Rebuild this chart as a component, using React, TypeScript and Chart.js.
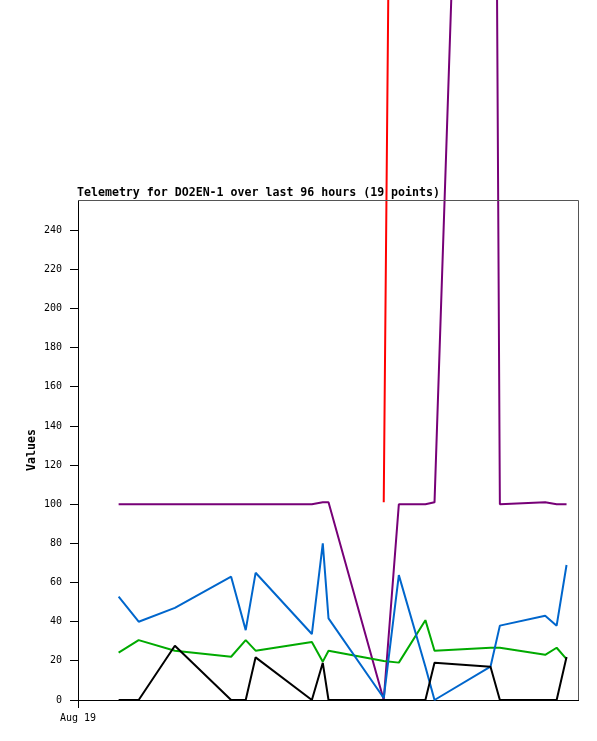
import React, { useEffect, useRef } from "react";
import { Chart, registerables } from "chart.js";

Chart.register(...registerables);

const TITLE = "Telemetry for DO2EN-1 over last 96 hours (19 points)";
const Y_TITLE = "Values";
const X_TICK_LABEL = "Aug 19";

// hours since start of axis
const hours = [7.8, 11.65, 18.6, 29.4, 32.2, 34.1, 44.9, 47.0, 48.1, 58.7, 61.6, 66.7, 68.45, 79.2, 81.0, 89.7, 91.9, 93.8];

const purple = [100, 100, 100, 100, 100, 100, 100, 101, 101, 0, 100, 100, 101, 960, 100, 101, 100, 100];
const red = [null, null, null, null, null, null, null, null, null, 101, 960, 960, 960, 960, 960, 960, 960, 960];
const blue = [52.8, 40, 47.1, 63, 35.7, 65, 33.7, 80, 41.7, 1, 63.8, 17, 0, 17, 38, 43, 38, 69];
const green = [24.2, 30.6, 25.2, 22.1, 30.6, 25.2, 29.6, 19.6, 25.2, 19.9, 19.1, 40.8, 25.2, 26.7, 26.7, 23.1, 26.7, 20.9];
const black = [0, 0, 27.7, 0, 0, 21.8, 0, 19, 0, 0, 0, 0, 19, 17, 0, 0, 0, 22];

const yTicks = [0, 20, 40, 60, 80, 100, 120, 140, 160, 180, 200, 220, 240];
const xTicks = [0];

const toPts = (arr: (number | null)[]) => arr.map((v, i) => ({ x: hours[i], y: v }));

export default function App() {
  const ref = useRef<HTMLCanvasElement | null>(null);
  useEffect(() => {
    if (!ref.current) return;
    const framePlugin = {
      id: "frame",
      afterDraw(chart: any) {
        const { ctx, chartArea } = chart;
        ctx.save();
        ctx.strokeStyle = "#555555";
        ctx.lineWidth = 1;
        ctx.beginPath();
        ctx.moveTo(chartArea.left, chartArea.top + 0.5);
        ctx.lineTo(chartArea.right + 0.5, chartArea.top + 0.5);
        ctx.lineTo(chartArea.right + 0.5, chartArea.bottom);
        ctx.stroke();
        ctx.fillStyle = "#000";
        ctx.font = 'bold 11.6px "DejaVu Sans Mono"';
        ctx.textAlign = "left";
        ctx.textBaseline = "alphabetic";
        ctx.fillText(TITLE, chartArea.left - 1, chartArea.top - 4);
        ctx.translate(31.5, (chartArea.top + chartArea.bottom) / 2);
        ctx.rotate(-Math.PI / 2);
        ctx.textAlign = "center";
        ctx.textBaseline = "middle";
        ctx.fillText(Y_TITLE, 0, 0);
        ctx.restore();
      },
    };
    const mk = (label: string, data: (number | null)[], color: string, order: number) => ({
      label,
      data: toPts(data),
      borderColor: color,
      backgroundColor: color,
      borderWidth: 2,
      borderJoinStyle: "bevel",
      pointRadius: 0,
      tension: 0,
      fill: false,
      spanGaps: false,
      clip: false as any,
      order,
    });
    const chart = new Chart(ref.current, {
      type: "line",
      data: {
        datasets: [
          mk("black", black, "#000000", 1),
          mk("green", green, "#00aa00", 3),
          mk("blue", blue, "#0066cc", 2),
          mk("purple", purple, "#770077", 4),
          mk("red", red, "#ff0000", 5),
        ] as any,
      },
      options: {
        responsive: false,
        animation: false,
        devicePixelRatio: 1,
        layout: { padding: { top: 200, right: 19, left: 0, bottom: 0 } },
        plugins: { legend: { display: false }, tooltip: { enabled: false }, title: { display: false } },
        scales: {
          x: {
            type: "linear",
            min: 0,
            max: 96,
            afterFit: (s: any) => { s.height = 41; },
            afterBuildTicks: (s: any) => { s.ticks = xTicks.map((v) => ({ value: v })); },
            grid: { drawOnChartArea: false, drawTicks: true, tickLength: 8, color: "#000" },
            border: { color: "#000", width: 1 },
            ticks: {
              color: "#000",
              font: { family: "DejaVu Sans Mono", size: 10 },
              padding: 4,
              maxRotation: 0,
              callback: () => X_TICK_LABEL,
            },
          },
          y: {
            type: "linear",
            min: 0,
            max: 255.5,
            afterFit: (s: any) => { s.width = 78; },
            afterBuildTicks: (s: any) => { s.ticks = yTicks.map((v) => ({ value: v })); },
            grid: { drawOnChartArea: false, drawTicks: true, tickLength: 8, color: "#000" },
            border: { color: "#000", width: 1 },
            ticks: {
              color: "#000",
              font: { family: "DejaVu Sans Mono", size: 10 },
              padding: 8,
              callback: (v: any) => String(v),
            },
          },
        },
      },
      plugins: [framePlugin],
    });
    return () => chart.destroy();
  }, []);
  return (
    <div style={{ position: "absolute", left: 0, top: 0, width: 597, height: 741, background: "#fff" }}>
      <canvas ref={ref} width={597} height={741} style={{ display: "block" }} />
    </div>
  );
}
